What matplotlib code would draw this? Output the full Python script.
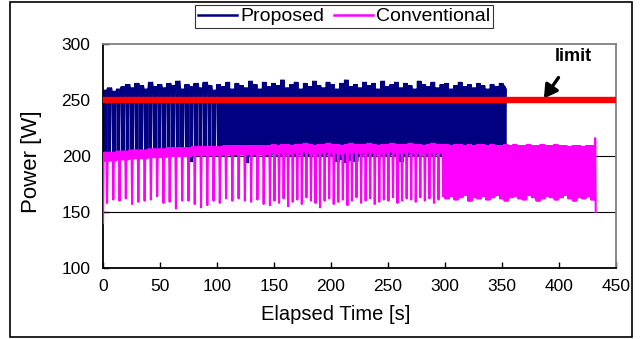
import numpy as np
import matplotlib.pyplot as plt
from matplotlib.patches import Rectangle

plt.rcParams['font.family'] = ['Liberation Sans', 'DejaVu Sans']

#%% data

sample_dt = 0.5          # s between samples
power_limit = 250        # W

# Proposed: per 4 s cycle, peak and trough power [W]
prop_pattern_early = 'HLHLHLHH'   # first 25 cycles (visible gaps)
prop_pattern_late = 'HLHLHLHL'
prop_peak = [259, 261, 258, 260, 262, 264, 261, 265, 263, 260,
             266, 262, 264, 261, 265, 263, 267, 260, 264, 262,
             265, 261, 266, 263, 259, 264, 262, 266, 260, 265,
             263, 261, 267, 264, 260, 266, 262, 265, 263, 268,
             261, 264, 266, 260, 265, 262, 267, 263, 261, 266,
             264, 260, 265, 268, 262, 264, 261, 266, 263, 265,
             260, 267, 262, 264, 266, 261, 265, 263, 260, 267,
             264, 262, 266, 261, 264, 265, 260, 263, 266, 262,
             264, 261, 265, 263, 260, 264, 262, 265]
prop_low = [196, 201, 200, 201, 200, 201, 200, 200, 201, 200,
            201, 200, 200, 201, 200, 201, 200, 200, 201, 195,
            200, 201, 200, 200, 201, 200, 200, 201, 200, 200,
            201, 194, 200, 200, 201, 200, 200, 201, 200, 200,
            201, 200, 200, 201, 200, 200, 201, 200, 200, 201,
            200, 195, 197, 194, 196, 195, 200, 201, 200, 200,
            201, 200, 200, 201, 200, 195, 200, 201, 200, 200,
            201, 200, 200, 201, 200, 200, 201, 200, 200, 201,
            200, 200, 201, 200, 200, 201, 200, 200]
prop_end = [263, 201, 262, 202, 260]

# Conventional: top level, dip level per cycle [W]
conv_start = [140, 198]
conv_band = 7            # thickness of the top jitter [W]
conv1_pattern = 'HSHSHLSHSHS'   # 5.5 s cycles
conv1_top = [203, 203, 204, 204, 205, 205, 205, 206, 206, 206,
             207, 207, 207, 207, 208, 208, 208, 208, 208, 209,
             209, 209, 209, 209, 209, 209]
conv1_dip = [158, 161, 160, 162, 157, 159, 160, 161, 164, 158,
             159, 153, 160, 160, 157, 154, 156, 160, 158, 162,
             160, 162, 160, 159, 161, 157]
conv2_pattern = 'HSHSHLSH'      # 4 s cycles
conv2_top = [209, 210, 209, 210, 210, 209, 210, 210, 211, 210,
             209, 210, 210, 211, 210, 210, 209, 210, 211, 210,
             210, 210, 211, 210, 209, 210, 210, 211, 210, 210,
             210, 211, 210, 210, 209, 210, 211, 210, 210]
conv2_dip = [156, 160, 158, 162, 155, 159, 161, 157, 163, 160,
             158, 154, 160, 162, 157, 159, 161, 156, 160, 163,
             158, 160, 162, 157, 159, 161, 160, 163, 158, 160,
             162, 161, 159, 163, 160, 162, 158, 161, 164]
conv3_pattern = 'HLHLHLHL'      # fast switching at the end
conv3_top = [210, 209, 210, 210, 209, 210, 209, 210, 210, 209,
             210, 209, 209, 210, 209, 210, 209, 209, 210, 209,
             209, 210, 209, 209, 210, 209, 209, 208, 209, 209,
             208, 209, 209]
conv3_dip = [162, 164, 161, 163, 165, 160, 163, 162, 164, 161,
             163, 165, 162, 160, 163, 164, 162, 161, 165, 163,
             160, 162, 164, 163, 161, 163, 165, 162, 160, 163,
             162, 164, 161]
conv_end = [216, 150]

xticks = [0, 50, 100, 150, 200, 250, 300, 350, 400, 450]
yticks = [100, 150, 200, 250, 300]


#%% build sample series

def expand(pattern, tops, lows, band=0):
    out = []
    for top, low in zip(tops, lows):
        for c in pattern:
            if c == 'H':
                out.append(top)
            elif c == 'S':
                out.append(top - band)
            else:
                out.append(low)
    return out


prop = (expand(prop_pattern_early, prop_peak[:25], prop_low[:25])
        + expand(prop_pattern_late, prop_peak[25:], prop_low[25:])
        + prop_end)
conv = (conv_start
        + expand(conv1_pattern, conv1_top, conv1_dip, conv_band)
        + expand(conv2_pattern, conv2_top, conv2_dip, conv_band)
        + expand(conv3_pattern, conv3_top, conv3_dip)
        + conv_end)

t_prop = np.arange(len(prop)) * sample_dt
t_conv = np.arange(len(conv)) * sample_dt

#%% plot

fig = plt.figure(figsize=(6.4, 3.39), dpi=100)
ax = fig.add_axes([0.161, 0.2103, 0.801, 0.659])

for yv in [150, 200, 250]:
    ax.axhline(yv, color='black', lw=0.8, zorder=1)

ax.plot(t_prop, prop, color='#000080', lw=0.9, label='Proposed', zorder=2)
ax.plot(t_conv, conv, color='#FF00FF', lw=1.5, label='Conventional', zorder=3)
ax.plot([0, 450], [power_limit, power_limit], color='#FF0000', lw=4.6,
        solid_capstyle='butt', zorder=4, clip_on=False)

ax.annotate('limit', xy=(387, 251.5), xytext=(413, 289.5),
            ha='center', va='center', fontsize=13, fontweight='bold',
            arrowprops=dict(arrowstyle='-|>,head_length=0.6,head_width=0.35',
                            color='black', lw=2.4, shrinkA=9, shrinkB=0))

ax.set_xlim(0, 450)
ax.set_ylim(100, 300)
ax.set_xticks(xticks)
ax.set_yticks(yticks)
ax.tick_params(direction='in', length=4, width=1, labelsize=12.5, pad=8)
ax.tick_params(axis='y', pad=9)

for side in ['left', 'bottom']:
    ax.spines[side].set_color('black')
    ax.spines[side].set_linewidth(1.3)
for side in ['top', 'right']:
    ax.spines[side].set_color('#808080')
    ax.spines[side].set_linewidth(1.3)

ax.set_xlabel('Elapsed Time [s]', fontsize=14.5)
ax.xaxis.set_label_coords(0.454, -0.165)
ax.set_ylabel('Power [W]', fontsize=16)
ax.yaxis.set_label_coords(-0.119, 0.473)

leg = fig.legend(loc='center', bbox_to_anchor=(0.5375, 0.951), ncol=2,
                 fontsize=14, frameon=True, fancybox=False, edgecolor='black',
                 handlelength=2.0, handletextpad=0.15, columnspacing=0.5,
                 borderpad=0.15, borderaxespad=0)
leg.get_frame().set_linewidth(0.8)
for line in leg.get_lines():
    line.set_linewidth(1.8)

# outer border of the chart
fig.patches.append(Rectangle((10 / 640, 2 / 339), 622 / 640, 335 / 339,
                             transform=fig.transFigure, fill=False,
                             edgecolor='black', lw=1.2))

plt.savefig('out.png', dpi=100)
